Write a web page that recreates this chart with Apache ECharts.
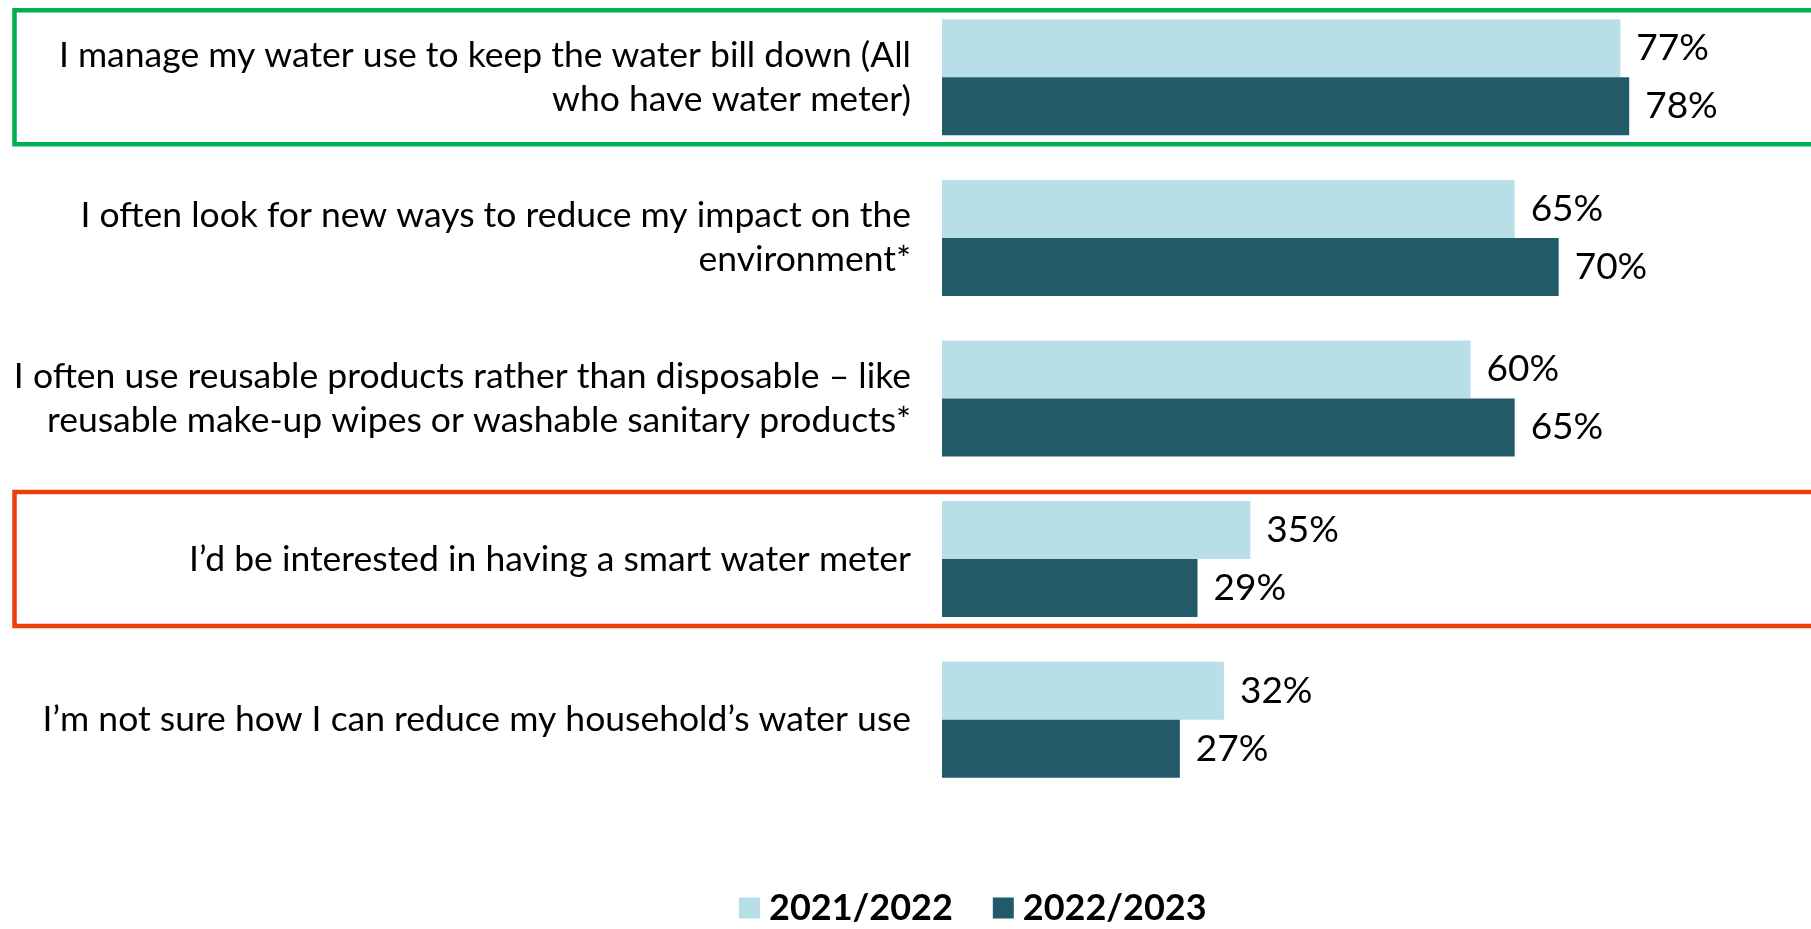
<!DOCTYPE html>
<html>
<head>
<meta charset="utf-8">
<script src="https://cdn.jsdelivr.net/npm/echarts@6/dist/echarts.min.js"></script>
<style>
html,body{margin:0;padding:0;background:#fff;overflow:hidden;width:1811px;height:929px;position:relative;}
#main{position:absolute;left:0;top:-3px;width:1840px;height:932px;}
</style>
</head>
<body>
<div id="main"></div>
<script>
const categories = [
  "I manage my water use to keep the water bill down (All\nwho have water meter)",
  "I often look for new ways to reduce my impact on the\nenvironment*",
  "I often use reusable products rather than disposable \u2013 like\nreusable make-up wipes or washable sanitary products*",
  "I\u2019d be interested in having a smart water meter",
  "I\u2019m not sure how I can reduce my household\u2019s water use"
];
const seriesNames = ["2021/2022", "2022/2023"];
const values2122 = [77, 65, 60, 35, 32];
const values2223 = [78, 70, 65, 29, 27];
const highlightRows = [{index: 0, color: "#00B050"}, {index: 3, color: "#EA3E0B"}];

const FONT = "Lato";
const chart = echarts.init(document.getElementById('main'), null, {renderer: 'canvas'});
const labelStyle = {show: true, position: 'right', distance: 16, formatter: '{c}%', color: '#000', fontFamily: FONT, fontSize: 37};
chart.setOption({
  animation: false,
  backgroundColor: '#fff',
  grid: {left: 942, top: 0, width: 881, height: 803},
  xAxis: {type: 'value', min: 0, max: 100, show: false},
  yAxis: {
    type: 'category', inverse: true, data: categories,
    axisLine: {show: false}, axisTick: {show: false},
    axisLabel: {margin: 31, color: '#000', fontFamily: FONT, fontSize: 35.5, lineHeight: 44, align: 'right'}
  },
  legend: {
    left: 739, top: 893, padding: 0, itemWidth: 21, itemHeight: 21, itemGap: 40,
    icon: 'rect',
    textStyle: {fontFamily: FONT, fontSize: 36, fontWeight: 'bold', color: '#000', padding: [0, 0, 0, 4]},
    data: seriesNames
  },
  series: [
    {name: seriesNames[0], type: 'bar', data: values2122, barWidth: 58, barGap: '0%', itemStyle: {color: '#B8DEE8'}, label: labelStyle},
    {name: seriesNames[1], type: 'bar', data: values2223, barWidth: 58, barGap: '0%', itemStyle: {color: '#225A69'}, label: labelStyle}
  ]
});
const rects = highlightRows.map(h => {
  const cy = chart.convertToPixel({yAxisIndex: 0}, h.index);
  return {type: 'rect', shape: {x: 14.5, y: cy - 67, width: 1850, height: 134},
    style: {fill: 'none', stroke: h.color, lineWidth: 4.5}, z: 10};
});
chart.setOption({graphic: rects});
</script>
</body>
</html>
